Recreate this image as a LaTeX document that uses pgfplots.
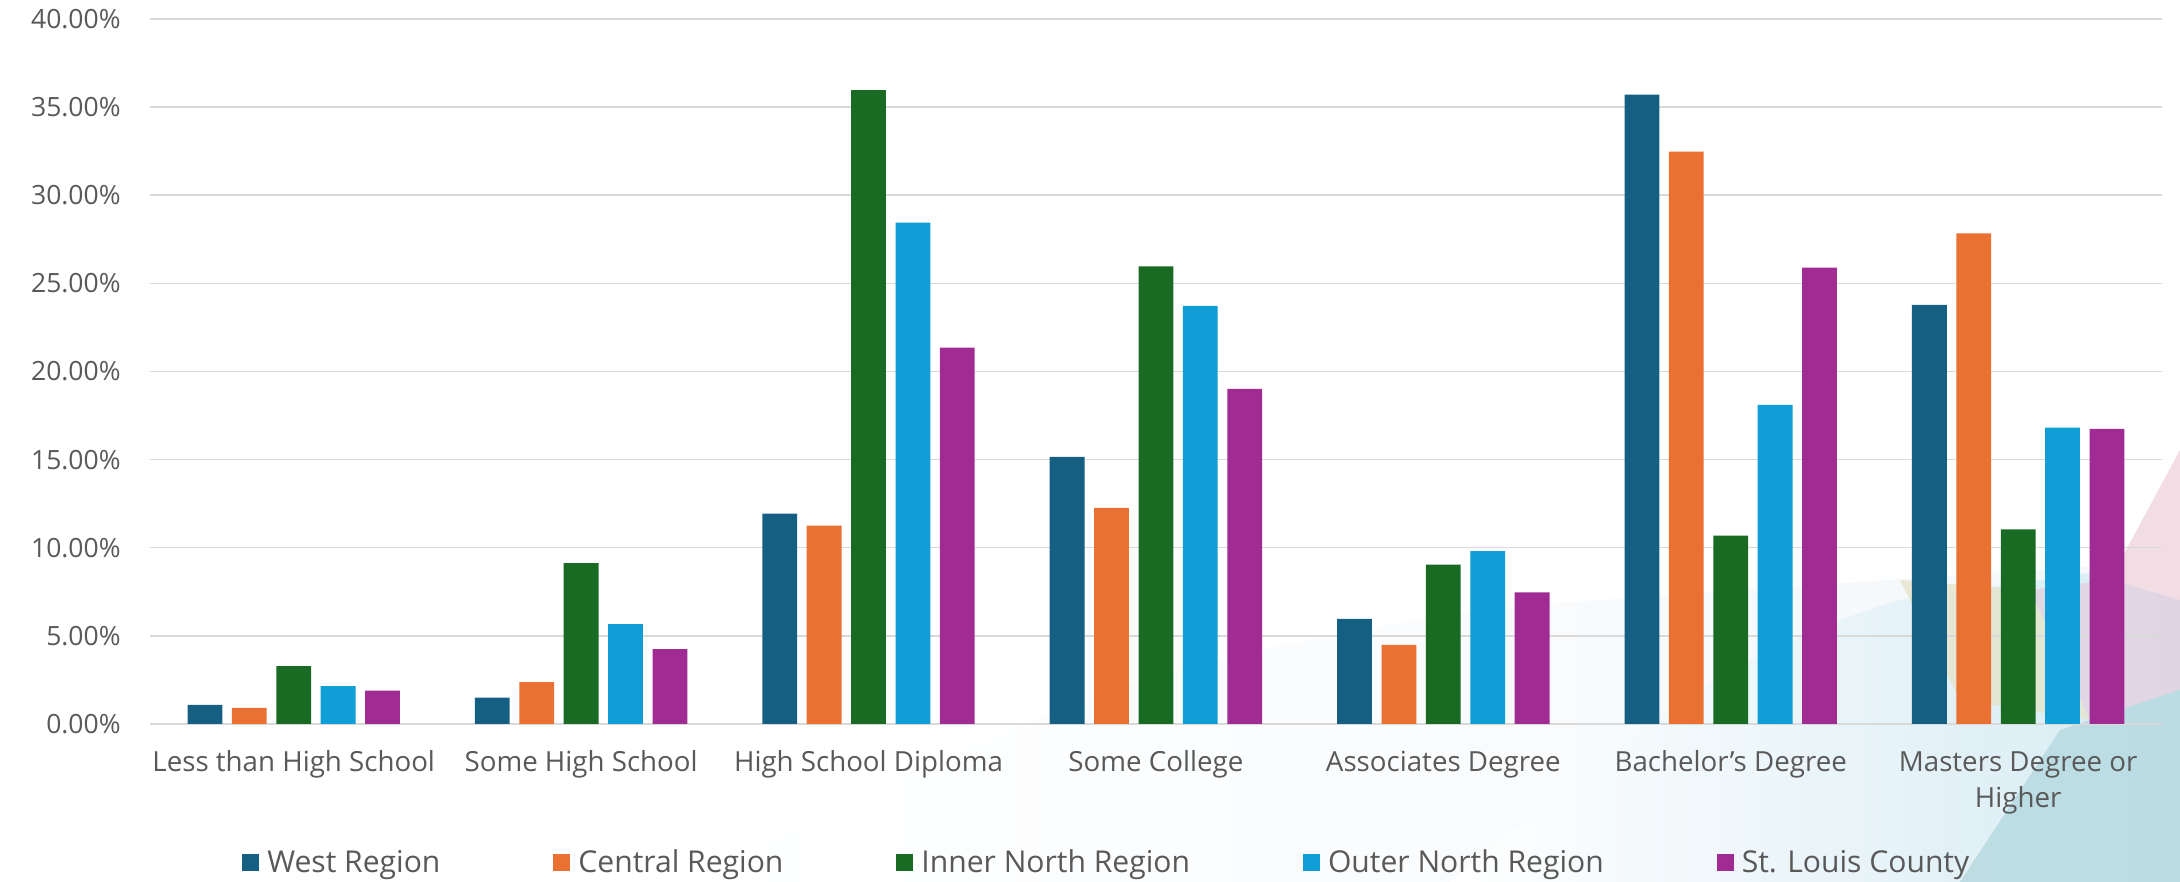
\documentclass[border=0pt]{standalone}
\usepackage{pgfplots}
\pgfplotsset{compat=1.18}
\usepackage{fontspec}
\setmainfont{Open Sans}

\definecolor{westc}{HTML}{156082}
\definecolor{centralc}{HTML}{E97132}
\definecolor{innerc}{HTML}{196B24}
\definecolor{outerc}{HTML}{0F9ED5}
\definecolor{countyc}{HTML}{A02B93}
\definecolor{txt}{HTML}{595959}
\definecolor{gridc}{HTML}{D9D9D9}
\definecolor{haze}{HTML}{F4F8FB}
\definecolor{paleblue}{HTML}{D6EBF3}
\definecolor{teal}{HTML}{B4D9DF}
\definecolor{paleolive}{HTML}{E6E4CC}
\definecolor{palepink}{HTML}{F3DDE4}
\definecolor{lilac}{HTML}{E2D4E2}

% educational attainment shares (percent), one table per region
\pgfplotstableread{
x y
0 1.08
1 1.49
2 11.93
3 15.15
4 5.96
5 35.71
6 23.78
}\westdata
\pgfplotstableread{
x y
0 0.91
1 2.38
2 11.25
3 12.26
4 4.49
5 32.47
6 27.84
}\centraldata
\pgfplotstableread{
x y
0 3.28
1 9.13
2 35.97
3 25.96
4 9.04
5 10.69
6 11.04
}\innerdata
\pgfplotstableread{
x y
0 2.15
1 5.66
2 28.44
3 23.73
4 9.81
5 18.11
6 16.82
}\outerdata
\pgfplotstableread{
x y
0 1.89
1 4.25
2 21.35
3 19.02
4 7.47
5 25.89
6 16.74
}\countydata

\begin{document}
\begin{tikzpicture}
\path[use as bounding box, fill=white] (0,0) rectangle (1090bp,441bp);
% soft decorative backdrop in the lower right corner
\begin{scope}[x=0.5bp, y=-0.5bp, yshift=441bp]
  \shade[left color=white, right color=haze] (700,882) .. controls (1000,700) and (1300,620) .. (1600,600) -- (2180,560) -- (2180,882) -- cycle;
  \shade[left color=white, right color=paleblue] (1450,882) .. controls (1600,760) and (1700,660) .. (1900,600) -- (2180,560) -- (2180,882) -- cycle;
  \fill[paleolive, opacity=0.8] (1900,580) -- (2030,590) -- (2090,720) -- (1960,700) -- cycle;
  \fill[palepink] (2180,450) -- (2110,580) -- (2180,600) -- cycle;
  \fill[lilac, opacity=0.9] (2030,590) -- (2110,580) -- (2180,600) -- (2180,690) -- (2090,720) -- cycle;
  \fill[teal, opacity=0.8] (1960,882) -- (2060,730) -- (2180,690) -- (2180,882) -- cycle;
\end{scope}
\begin{axis}[
  at={(75bp,79bp)}, anchor=south west,
  scale only axis, width=1006bp, height=352.5bp,
  xmin=-0.5, xmax=6.5, ymin=0, ymax=40,
  ybar=4.8bp, bar width=17.4bp,
  axis line style={draw=none}, major tick length=0pt,
  ymajorgrids, grid style={gridc, line width=0.75bp},
  ytick={0,5,...,40},
  /pgf/number format/assume math mode=true,
  yticklabel={\pgfmathprintnumber[fixed,fixed zerofill,precision=2]{\tick}\%},
  xtick={0,...,6},
  xticklabels={Less than High School, Some High School, High School Diploma, Some College, Associates Degree, Bachelor’s Degree, {\begin{tabular}[t]{@{}c@{}}Masters Degree or\\Higher\end{tabular}}},
  ticklabel style={text=txt},
  yticklabel style={font=\fontsize{13.3}{18}\selectfont, anchor=east, inner sep=0pt, xshift=-14.5bp},
  xticklabel style={font=\fontsize{13.9}{18}\selectfont, anchor=base, inner sep=0pt, yshift=-23.75bp},
  legend columns=5,
  legend style={at={(0.0457,-0.197)}, anchor=west, draw=none, fill=none,
    inner sep=0pt, font=\fontsize{15.1}{18}\selectfont, text=txt,
    nodes={inner sep=2bp},
    /tikz/every even column/.append style={column sep=54.5bp}},
  legend image code/.code={\fill[#1] (0bp,-4.25bp) rectangle (8.5bp,4.25bp); \path (10.5bp,0bp);},
]
\addplot[fill=westc, draw=none] table {\westdata};
\addplot[fill=centralc, draw=none] table {\centraldata};
\addplot[fill=innerc, draw=none] table {\innerdata};
\addplot[fill=outerc, draw=none] table {\outerdata};
\addplot[fill=countyc, draw=none] table {\countydata};
\legend{West Region, Central Region, Inner North Region, Outer North Region, St. Louis County}
\end{axis}
\end{tikzpicture}
\end{document}
